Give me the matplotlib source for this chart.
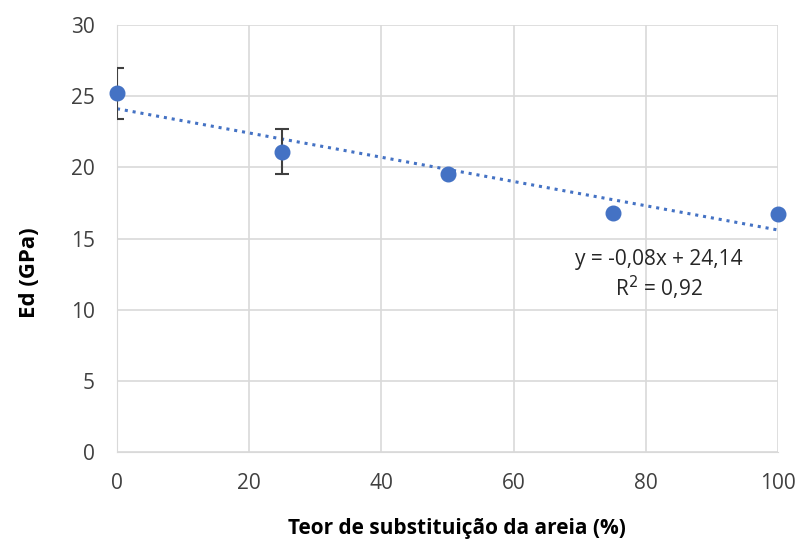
import matplotlib
matplotlib.use('Agg')
import matplotlib.pyplot as plt
import numpy as np

plt.rcParams['font.family'] = ['Open Sans', 'DejaVu Sans']

# dados
teor = [0, 25, 50, 75, 100]
ed = [25.2, 21.1, 19.5, 16.8, 16.7]
erro = [1.8, 1.6, 0, 0, 0]
eq_texto = 'y = -0,08x + 24,14\nR$^2$ = 0,92'

azul = '#4472C4'

fig = plt.figure(figsize=(7.98, 5.44), dpi=100)
ax = fig.add_axes([0.1466, 0.169, 0.8284, 0.785])

# barras de erro só nos pontos que têm
for x, y, e in zip(teor, ed, erro):
    if e > 0:
        ax.errorbar(x, y, yerr=e, fmt='none', ecolor='#404040',
                    elinewidth=1.5, capsize=5, capthick=1.5, zorder=3)

ax.plot(teor, ed, 'o', color=azul, markersize=10.5, zorder=4, clip_on=False)

# linha de tendência linear
a, b = np.polyfit(teor, ed, 1)
xt = np.array([0, 100])
ax.plot(xt, a * xt + b, linestyle=(0, (1, 1.6)), color=azul, linewidth=2.2, zorder=2)

ax.text(82, 12.4, eq_texto, ha='center', va='center', fontsize=15,
        linespacing=1.2, color='#262626')

ax.set_xlim(0, 100)
ax.set_ylim(0, 30)
ax.set_xticks(np.arange(0, 101, 20))
ax.set_yticks(np.arange(0, 31, 5))
ax.grid(color='#d9d9d9', linewidth=1.2)
ax.set_axisbelow(True)
for s in ax.spines.values():
    s.set_visible(False)
ax.spines['left'].set_visible(True)
ax.spines['bottom'].set_visible(True)
ax.spines['left'].set_color('#d9d9d9')
ax.spines['bottom'].set_color('#d9d9d9')
ax.tick_params(length=0, labelsize=15, colors='#404040')
ax.tick_params(axis='x', pad=15)
ax.tick_params(axis='y', pad=16)

ax.set_xlabel('Teor de substituição da areia (%)', fontsize=15, fontweight='bold', va='center')
ax.set_ylabel('Ed (GPa)', fontsize=16, fontweight='bold', va='center')
ax.xaxis.set_label_coords(0.514, -0.178)
ax.yaxis.set_label_coords(-0.1316, 0.42)

fig.savefig('out.png', dpi=100)
